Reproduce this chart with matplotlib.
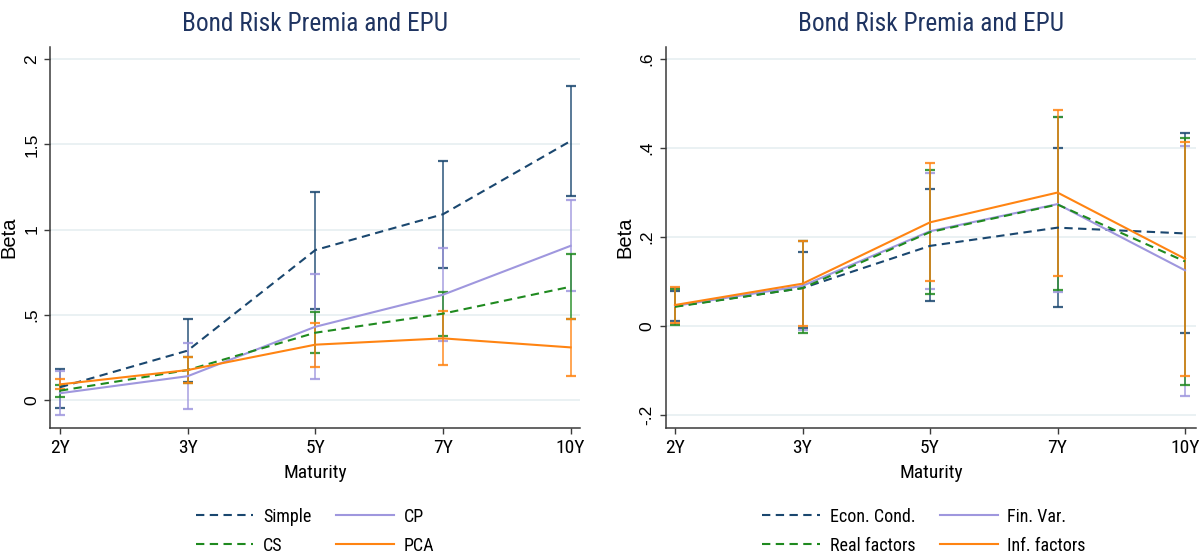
import os
import numpy as np
import matplotlib.pyplot as plt
from matplotlib import font_manager
from matplotlib.font_manager import FontProperties

plt.rcParams['font.family'] = ['Liberation Sans', 'DejaVu Sans']

# look for a condensed sans face; the chart's horizontal text is narrow
prefs = ['liberationsansnarrow', 'arialnarrow', 'robotocondensed', 'notosans', 'dejavusanscondensed', 'opensans']
found = []
for f in font_manager.fontManager.ttflist:
    fn = os.path.basename(f.fname).lower().replace('-', '').replace('_', '')
    if ('narrow' in fn or 'condensed' in fn) and not any(k in fn for k in ['bold', 'italic', 'oblique', 'light', 'thin', 'black', 'medium', 'semi', 'extra', 'ultra', 'mono']):
        rank = next((i for i, p in enumerate(prefs) if fn.startswith(p)), len(prefs))
        found.append((rank, f.fname))
found.sort()
if found:
    narrow_file = found[0][1]
    shrink = 1.0
else:
    narrow_file = None
    shrink = 0.81


def nprop(size):
    if narrow_file:
        return FontProperties(fname=narrow_file, size=size)
    return FontProperties(family='Liberation Sans', size=size * shrink)


maturities = ['2Y', '3Y', '5Y', '7Y', '10Y']

# left panel
simple = [0.075, 0.29, 0.88, 1.09, 1.52]
simple_lo = [-0.045, 0.105, 0.535, 0.775, 1.20]
simple_hi = [0.18, 0.475, 1.22, 1.40, 1.843]
cp = [0.04, 0.14, 0.43, 0.618, 0.905]
cp_lo = [-0.088, -0.051, 0.121, 0.344, 0.64]
cp_hi = [0.172, 0.336, 0.739, 0.89, 1.174]
cs = [0.055, 0.176, 0.395, 0.507, 0.665]
cs_lo = [0.02, 0.098, 0.274, 0.376, 0.475]
cs_hi = [0.088, 0.254, 0.515, 0.634, 0.857]
pca = [0.092, 0.176, 0.325, 0.362, 0.309]
pca_lo = [0.063, 0.098, 0.194, 0.203, 0.141]
pca_hi = [0.123, 0.254, 0.454, 0.524, 0.475]

# right panel
econ = [0.044, 0.085, 0.18, 0.221, 0.208]
econ_lo = [0.012, -0.005, 0.055, 0.043, -0.017]
econ_hi = [0.078, 0.167, 0.307, 0.40, 0.435]
fin = [0.045, 0.09, 0.213, 0.274, 0.125]
fin_lo = [0.005, -0.01, 0.084, 0.077, -0.158]
fin_hi = [0.085, 0.19, 0.345, 0.471, 0.405]
real = [0.043, 0.085, 0.211, 0.273, 0.145]
real_lo = [0.003, -0.015, 0.071, 0.08, -0.134]
real_hi = [0.083, 0.19, 0.351, 0.47, 0.423]
inf = [0.047, 0.095, 0.233, 0.30, 0.151]
inf_lo = [0.007, 0.0, 0.10, 0.113, -0.113]
inf_hi = [0.087, 0.19, 0.366, 0.485, 0.414]

navy = '#1a476f'
lav = '#9f97de'
green = '#1f8a1f'
orange = '#ff8412'
dash = (4, 2.6)


def panel(ax, series, yticks, ylabels, ylim, xlim, legend_x):
    x = np.arange(len(maturities))
    for y, lo, hi, c, ls, lab in series:
        ax.vlines(x, lo, hi, color=c, lw=1.2, alpha=0.85, zorder=2)
        ax.plot(x, lo, ls='none', marker='_', ms=7, mew=1.6, color=c, alpha=0.85, zorder=2)
        ax.plot(x, hi, ls='none', marker='_', ms=7, mew=1.6, color=c, alpha=0.85, zorder=2)
    handles = {}
    for y, lo, hi, c, ls, lab in series:
        if ls == 'dash':
            h, = ax.plot(x, y, color=c, lw=1.5, dashes=dash, label=lab, zorder=3)
        else:
            h, = ax.plot(x, y, color=c, lw=1.5, label=lab, zorder=3)
        handles[lab] = h
    ax.set_xlim(*xlim)
    ax.set_ylim(*ylim)
    ax.set_xticks(x)
    ax.set_xticklabels(maturities, fontproperties=nprop(14))
    ax.set_yticks(yticks)
    ax.set_yticklabels(ylabels, fontsize=12.5, rotation=90, va='center')
    ax.grid(axis='y', color='#e8f0f2', lw=1.3, zorder=0)
    ax.set_axisbelow(True)
    for s in ['top', 'right']:
        ax.spines[s].set_visible(False)
    for s in ['left', 'bottom']:
        ax.spines[s].set_color('#3a3a3a')
        ax.spines[s].set_linewidth(1.1)
    ax.tick_params(colors='#3a3a3a', length=4, width=1.0, labelcolor='black', pad=4)
    ax.set_xlabel('Maturity', fontproperties=nprop(14), labelpad=5)
    ax.set_ylabel('Beta', fontsize=14.5, labelpad=4)
    ax.set_title('Bond Risk Premia and EPU', fontproperties=nprop(18.3), color='#1f3461', pad=11)
    labs = [series[0][5], series[2][5], series[1][5], series[3][5]]
    ax.legend([handles[l] for l in labs], labs, ncol=2, frameon=False, loc='center',
              bbox_to_anchor=(legend_x, 0.043), bbox_transform=ax.figure.transFigure,
              prop=nprop(13), handlelength=3.2, handletextpad=0.55,
              columnspacing=1.35, labelspacing=0.6)


fig = plt.figure(figsize=(11.99, 5.55), dpi=100)
ax1 = fig.add_axes([0.042, 0.2288, 0.4417, 0.687])
ax2 = fig.add_axes([0.5552, 0.2288, 0.4423, 0.687])

panel(ax1,
      [(simple, simple_lo, simple_hi, navy, 'dash', 'Simple'),
       (cp, cp_lo, cp_hi, lav, 'solid', 'CP'),
       (cs, cs_lo, cs_hi, green, 'dash', 'CS'),
       (pca, pca_lo, pca_hi, orange, 'solid', 'PCA')],
      [0, 0.5, 1, 1.5, 2], ['0', '.5', '1', '1.5', '2'],
      (-0.164, 2.073), (-0.075, 4.073), 0.2627)

panel(ax2,
      [(econ, econ_lo, econ_hi, navy, 'dash', 'Econ. Cond.'),
       (fin, fin_lo, fin_hi, lav, 'solid', 'Fin. Var.'),
       (real, real_lo, real_hi, green, 'dash', 'Real factors'),
       (inf, inf_lo, inf_hi, orange, 'solid', 'Inf. factors')],
      [-0.2, 0, 0.2, 0.4, 0.6], ['-.2', '0', '.2', '.4', '.6'],
      (-0.2297, 0.628), (-0.073, 4.086), 0.7706)

fig.savefig('out.png', dpi=100)
